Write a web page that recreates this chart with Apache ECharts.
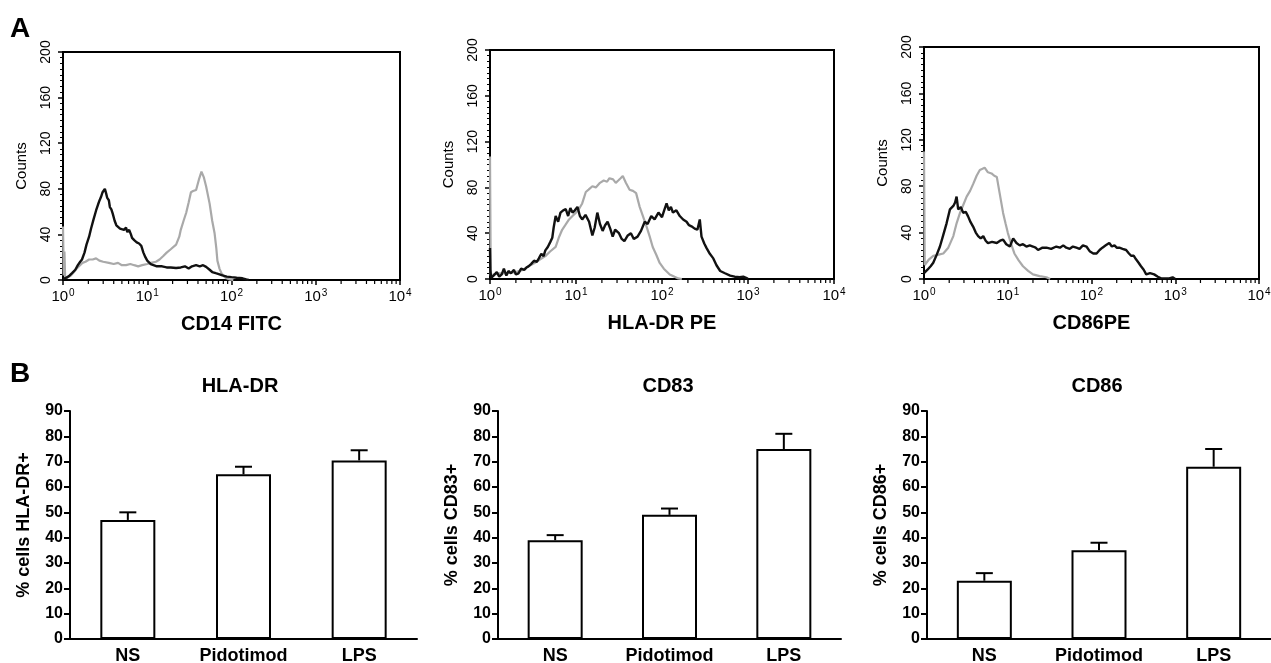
<!DOCTYPE html>
<html><head><meta charset="utf-8">
<script src="https://cdn.jsdelivr.net/npm/echarts@6/dist/echarts.min.js"></script>
<style>html,body{margin:0;padding:0;background:#fff}#c{width:1271px;height:663px}</style>
</head><body><div id="c"></div>
<script>
const FONT = 'Arial, "Liberation Sans", Helvetica, sans-serif';

// ---- Panel A: flow cytometry histograms, [fluorescence intensity, counts] ----
const cd14Gray = [[1.0,47],[1.02,4],[1.04,25],[1.06,3],[1.12,2],[1.24,4],[1.35,7],[1.45,10],[1.55,12],[1.7,15],[1.85,16],[2.04,18],[2.25,18],[2.47,19],[2.7,17],[3.0,16],[3.5,15],[4.0,14],[4.5,15],[5.0,13],[5.6,13],[6.3,14],[7.0,13],[7.8,12],[8.7,13],[10,14],[11,15],[12.7,16],[14,18],[15.5,21],[17,24],[19,27],[22,31],[24,38],[25,44],[27,52],[29,59],[31,68],[33,77],[35,78],[38,79],[41,88],[44,95],[47,90],[50,82],[55,67],[59,52],[63,41],[66,28],[68,17],[72,10],[76,6],[82,3],[87,1.5],[95,0.5],[105,0]];
const cd14Black = [[1.0,1],[1.1,2],[1.2,4],[1.28,6],[1.4,9],[1.5,13],[1.6,16],[1.68,18],[1.8,24],[1.9,31],[2.04,38],[2.15,45],[2.3,53],[2.47,61],[2.6,66],[2.72,70],[2.83,73],[2.95,77],[3.05,78],[3.14,80],[3.25,76],[3.35,72],[3.5,70],[3.6,64],[3.75,62],[3.9,58],[4.1,52],[4.3,48],[4.5,47],[4.75,45],[5.0,46],[5.3,44],[5.6,46],[5.8,42],[6.1,44],[6.4,40],[6.6,37],[7.0,35],[7.5,33],[8.0,32],[8.5,30],[9.0,24],[9.5,20],[10,17],[11,14],[11.5,13],[13,12],[15,12],[17,11],[19,11],[22,10.5],[25,11],[28,12],[31,10],[34,12],[38,13],[42,12],[46,13],[50,11.5],[55,9],[59,7],[65,6],[72,5],[78,4],[88,3],[100,2.5],[115,2],[135,1.5],[150,0.5],[160,0]];

const hlaGray = [[1.0,107],[1.02,3],[1.1,4],[1.3,5],[1.6,5],[2.0,6],[2.4,8],[2.8,11],[3.3,14],[3.8,17],[4.4,20],[5.0,24],[5.8,28],[6.3,36],[6.9,43],[7.5,47],[8.3,52],[9.1,55],[10,58],[11,62],[11.8,66],[12.5,72],[13,76],[14,78],[15.5,81],[17,80],[19,84],[21,86],[23,85],[24.5,88],[27,87],[29,84],[31,86],[33,88],[35,90],[38,84],[42,78],[46,77],[50,75],[55,63],[60,55],[66,46],[72,37],[78,28],[86,21],[94,14],[105,9],[123,4],[140,2],[155,0.5],[170,0]];
const hlaBlack = [[1.0,27],[1.01,8],[1.03,1],[1.1,3],[1.2,6],[1.28,2],[1.37,4],[1.45,9],[1.55,3],[1.64,7],[1.75,5],[1.9,8],[2.0,4],[2.15,5],[2.3,9],[2.5,8],[2.65,10],[2.8,11],[3.0,13],[3.25,16],[3.5,15],[3.7,18],[3.95,22],[4.2,20],[4.4,25],[4.7,28],[5.0,32],[5.3,36],[5.5,45],[5.8,55],[6.2,50],[6.6,58],[7.1,60],[7.6,61],[8.1,55],[8.6,62],[9.1,58],[9.7,60],[10.4,63],[11.1,55],[11.8,52],[12.9,56],[14.2,50],[15.5,38],[16.5,45],[17.7,58],[19,48],[20.4,42],[21.8,47],[23.3,50],[25,44],[26.7,37],[28.5,43],[31.6,40],[34,35],[36.5,33],[40,38],[43.5,40],[47,35],[52,37],[57,42],[63,50],[68,48],[75,55],[82,52],[91,58],[100,54],[106,60],[113,66],[120,60],[127,63],[134,58],[147,60],[161,55],[176,52],[193,50],[206,47],[220,46],[240,44],[258,43],[275,52],[288,37],[310,31],[330,27],[360,22],[395,18],[430,12],[475,7],[540,5],[620,3],[700,2],[800,1.5],[880,2],[980,0.5],[1000,0]];

const cd86Gray = [[1.0,110],[1.02,12],[1.07,14],[1.15,17],[1.29,20],[1.5,21],[1.7,22],[1.95,27],[2.24,37],[2.45,48],[2.69,57],[2.95,64],[3.23,71],[3.55,76],[3.87,82],[4.25,89],[4.64,94],[5.0,95],[5.3,96],[5.8,92],[6.4,91],[6.9,89],[7.4,88],[8.0,74],[8.8,57],[9.4,48],[10,40],[11,30],[12,22],[13.5,16],[15.2,11],[17.5,7],[20,4],[24,2.5],[29,1.5],[32,0]];
const cd86Black = [[1.0,5],[1.1,8],[1.2,11],[1.29,14],[1.42,21],[1.55,28],[1.7,38],[1.86,48],[2.04,60],[2.24,63],[2.35,66],[2.45,71],[2.56,60],[2.75,62],[2.94,57],[3.15,58],[3.36,54],[3.6,49],[3.87,45],[4.15,40],[4.43,37],[4.75,35],[5.1,37],[5.45,33],[5.8,31],[6.5,32],[7.4,31],[8.1,33],[8.8,34],[9.6,30],[10.6,28],[11.6,35],[12.7,31],[13.9,29],[15.2,30],[16.7,28],[18.3,29],[20,28],[21.5,27],[23,25],[26,27],[29,27],[33,26],[38,28],[42,27],[46,29],[50,27],[55,26],[60,28],[66,27],[72,26],[79,29],[87,28],[95,24],[105,22],[115,22],[125,25],[135,27],[148,29],[163,31],[175,28],[188,29],[200,27],[215,27],[235,26],[259,25],[280,22],[297,20],[320,20],[340,17],[365,14],[390,11],[420,8],[450,4],[500,5],[560,4],[620,2],[675,0.5],[750,0.5],[850,0.5],[930,1.5],[980,0.5],[1000,0]];

const histAxisNames = ['CD14 FITC', 'HLA-DR PE', 'CD86PE'];
const histYName = 'Counts';
const logMinorTicks = [2,3,4,5,6,7,8,9,20,30,40,50,60,70,80,90,200,300,400,500,600,700,800,900,2000,3000,4000,5000,6000,7000,8000,9000];

// ---- Panel B: bar charts (mean and upper error) ----
const barCategories = ['NS', 'Pidotimod', 'LPS'];
const barTitles = ['HLA-DR', 'CD83', 'CD86'];
const barYNames = ['% cells HLA-DR+', '% cells CD83+', '% cells CD86+'];
const hlaDrMean = [47, 65, 70.5];
const hlaDrErr  = [50, 68, 74.5];
const cd83Mean  = [39, 49, 75];
const cd83Err   = [41, 51.5, 81];
const cd86Mean  = [23, 35, 68];
const cd86Err   = [26, 38, 75];

const histData = [[cd14Gray, cd14Black], [hlaGray, hlaBlack], [cd86Gray, cd86Black]];
const barMeans = [hlaDrMean, cd83Mean, cd86Mean];
const barErrs = [hlaDrErr, cd83Err, cd86Err];

const histGrids = [
  {left: 63, top: 52, width: 337, height: 228},
  {left: 490, top: 50, width: 344, height: 229},
  {left: 924, top: 47, width: 335, height: 232}
];
const barGrids = [
  {left: 70, top: 411, width: 347, height: 228},
  {left: 498, top: 411, width: 343, height: 228},
  {left: 927, top: 411, width: 344, height: 228}
];

const grid = [], xAxis = [], yAxis = [], series = [];
histGrids.forEach((g, i) => {
  grid.push(Object.assign({show: true, borderColor: '#000', borderWidth: 2, containLabel: false, outerBoundsMode: 'none'}, g));
  xAxis.push({
    type: 'log', logBase: 10, gridIndex: i, min: 1, max: 10000,
    name: histAxisNames[i], nameLocation: 'middle', nameGap: 34,
    nameTextStyle: {fontFamily: FONT, fontWeight: 'bold', fontSize: 20, color: '#000'},
    axisLine: {show: true, lineStyle: {color: '#000', width: 2}},
    axisTick: {show: true, length: 5, lineStyle: {color: '#000', width: 1.5}},
    minorTick: {show: false},
    splitLine: {show: false},
    axisLabel: {
      margin: 8, color: '#000',
      formatter: v => '{b|10}{s|' + Math.round(Math.log10(v)) + '}',
      rich: {
        b: {fontFamily: FONT, fontSize: 15, color: '#000', lineHeight: 17},
        s: {fontFamily: FONT, fontSize: 10, color: '#000', verticalAlign: 'top', lineHeight: 17, padding: [0, 0, 6, 1]}
      }
    }
  });
  yAxis.push({
    type: 'value', gridIndex: i, min: 0, max: 200, interval: 40,
    name: histYName, nameLocation: 'middle', nameGap: 34,
    nameTextStyle: {fontFamily: FONT, fontSize: 15, color: '#000'},
    axisLine: {show: true, lineStyle: {color: '#000', width: 2}},
    axisTick: {show: true, length: 5, lineStyle: {color: '#000', width: 1.5}},
    minorTick: {show: true, splitNumber: 8, length: 3, lineStyle: {color: '#000', width: 1}},
    splitLine: {show: false},
    axisLabel: {rotate: 90, margin: 10, fontFamily: FONT, fontSize: 14, color: '#000'}
  });
  const [gray, black] = histData[i];
  series.push({type: 'line', xAxisIndex: i, yAxisIndex: i, data: gray, showSymbol: false, symbol: 'none',
    lineStyle: {color: '#a9a9a9', width: 2.2}, z: 3});
  series.push({type: 'line', xAxisIndex: i, yAxisIndex: i, data: black, showSymbol: false, symbol: 'none',
    lineStyle: {color: '#111', width: 2.4}, z: 4});
  series.push({
    type: 'custom', xAxisIndex: i, yAxisIndex: i, clip: false, silent: true, z: 5,
    data: logMinorTicks.map(v => [v, 0]),
    renderItem: (params, api) => {
      const p = api.coord([api.value(0), 0]);
      return {type: 'line', shape: {x1: p[0], y1: p[1], x2: p[0], y2: p[1] + 4},
        style: {stroke: '#000', lineWidth: 1.2}};
    }
  });
});

barGrids.forEach((g, k) => {
  const i = k + 3;
  grid.push(Object.assign({show: false, containLabel: false, outerBoundsMode: 'none'}, g));
  xAxis.push({
    type: 'category', gridIndex: i, data: barCategories,
    axisLine: {show: true, lineStyle: {color: '#000', width: 2}},
    axisTick: {show: false},
    splitLine: {show: false},
    axisLabel: {interval: 0, margin: 8, fontFamily: FONT, fontWeight: 'bold', fontSize: 18, color: '#000'}
  });
  yAxis.push({
    type: 'value', gridIndex: i, min: 0, max: 90, interval: 10,
    name: barYNames[k], nameLocation: 'middle', nameGap: 37,
    nameTextStyle: {fontFamily: FONT, fontWeight: 'bold', fontSize: 18, color: '#000'},
    axisLine: {show: true, lineStyle: {color: '#000', width: 2}},
    axisTick: {show: true, length: 6, lineStyle: {color: '#000', width: 2}},
    splitLine: {show: false},
    axisLabel: {margin: 7, fontFamily: FONT, fontWeight: 'bold', fontSize: 16, color: '#000'}
  });
  series.push({
    type: 'bar', xAxisIndex: i, yAxisIndex: i, data: barMeans[k], barWidth: 55,
    itemStyle: {color: '#fff', borderColor: '#000', borderWidth: 2}, z: 3
  });
  series.push({
    type: 'custom', xAxisIndex: i, yAxisIndex: i, clip: false, silent: true, z: 4,
    data: barCategories.map((c, j) => [j, barErrs[k][j], barMeans[k][j]]),
    renderItem: (params, api) => {
      const top = api.coord([api.value(0), api.value(1)]);
      const base = api.coord([api.value(0), api.value(2)]);
      return {type: 'group', children: [
        {type: 'line', shape: {x1: top[0], y1: base[1], x2: top[0], y2: top[1]}, style: {stroke: '#000', lineWidth: 2}},
        {type: 'line', shape: {x1: top[0] - 8.5, y1: top[1], x2: top[0] + 8.5, y2: top[1]}, style: {stroke: '#000', lineWidth: 2}}
      ]};
    }
  });
});

const titleCenters = [240, 668, 1097];
const graphic = [
  {type: 'text', x: 10, y: 29, style: {text: 'A', fontFamily: FONT, fontWeight: 'bold', fontSize: 28, fill: '#000', align: 'left', verticalAlign: 'middle'}},
  {type: 'text', x: 10, y: 374, style: {text: 'B', fontFamily: FONT, fontWeight: 'bold', fontSize: 28, fill: '#000', align: 'left', verticalAlign: 'middle'}}
];
barTitles.forEach((t, k) => graphic.push({
  type: 'text', x: titleCenters[k], y: 386,
  style: {text: t, fontFamily: FONT, fontWeight: 'bold', fontSize: 20, fill: '#000', align: 'center', verticalAlign: 'middle'}
}));

const chart = echarts.init(document.getElementById('c'), null, {renderer: 'canvas'});
chart.setOption({
  animation: false,
  backgroundColor: '#fff',
  textStyle: {fontFamily: FONT},
  grid, xAxis, yAxis, series, graphic
});
</script>
</body></html>
